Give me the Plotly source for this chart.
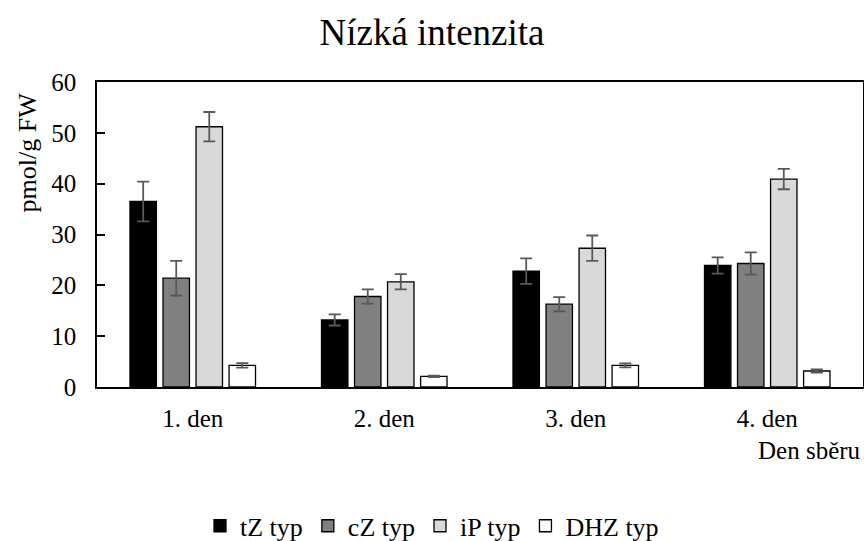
import plotly.graph_objects as go

categories = ["1. den", "2. den", "3. den", "4. den"]
series_names = ["tZ typ", "cZ typ", "iP typ", "DHZ typ"]
tZ = [36.5, 13.2, 22.8, 23.9]
cZ = [21.4, 17.8, 16.3, 24.3]
iP = [51.2, 20.7, 27.3, 40.9]
DHZ = [4.26, 2.1, 4.26, 3.15]
tZ_err = [3.9, 1.1, 2.5, 1.6]
cZ_err = [3.4, 1.4, 1.4, 2.2]
iP_err = [2.9, 1.5, 2.5, 2.0]
DHZ_err = [0.45, 0.15, 0.4, 0.3]
colors = ["#000000", "#808080", "#D9D9D9", "#FFFFFF"]
y_ticks = [0, 10, 20, 30, 40, 50, 60]

values = [tZ, cZ, iP, DHZ]
errors = [tZ_err, cZ_err, iP_err, DHZ_err]

FONT = "Liberation Serif, Times New Roman, serif"

fig = go.Figure()
for name, vals, errs, col in zip(series_names, values, errors, colors):
    fig.add_trace(go.Bar(
        x=categories, y=vals, name=name,
        marker=dict(color=col, line=dict(color="#000000", width=1.3)),
        error_y=dict(type="data", array=errs, visible=True,
                     color="#595959", thickness=1.8, width=6),
    ))

fig.update_layout(
    width=864, height=541,
    margin=dict(l=97, r=1, t=82, b=154, autoexpand=False),
    paper_bgcolor="white", plot_bgcolor="white",
    barmode="group", bargap=0.31, bargroupgap=0.2,
    font=dict(family=FONT, size=25, color="#000000"),
    title=dict(text="Nízká intenzita", x=0.5, xref="container",
               y=0.94, yref="container", yanchor="middle",
               font=dict(family=FONT, size=37, color="#000000")),
    showlegend=True,
    legend=dict(orientation="h", x=0.5, xref="container", xanchor="center",
                y=0.028, yref="container", yanchor="middle",
                font=dict(family=FONT, size=26), itemwidth=30,
                tracegroupgap=0),
    xaxis=dict(showline=True, linecolor="#000000", linewidth=1.5,
               mirror=True, ticks="", showgrid=False,
               tickfont=dict(family=FONT, size=25),
               ticklabelstandoff=8),
    yaxis=dict(range=[0, 60], tickvals=y_ticks, showline=True,
               linecolor="#000000", linewidth=1.5, mirror=True,
               ticks="inside", ticklen=8, tickwidth=1.5, tickcolor="#000000",
               showgrid=False, zeroline=False,
               tickfont=dict(family=FONT, size=25),
               ticklabelstandoff=14),
    annotations=[
        dict(text="pmol/g FW", textangle=-90, xref="paper", yref="paper",
             x=-0.091, y=0.77, xanchor="center", yanchor="middle",
             showarrow=False, font=dict(family=FONT, size=26)),
        dict(text="Den sběru", xref="paper", yref="paper",
             x=1.0, y=-0.207, xanchor="right", yanchor="middle",
             showarrow=False, font=dict(family=FONT, size=25)),
    ],
)

fig.write_html("out.html")
